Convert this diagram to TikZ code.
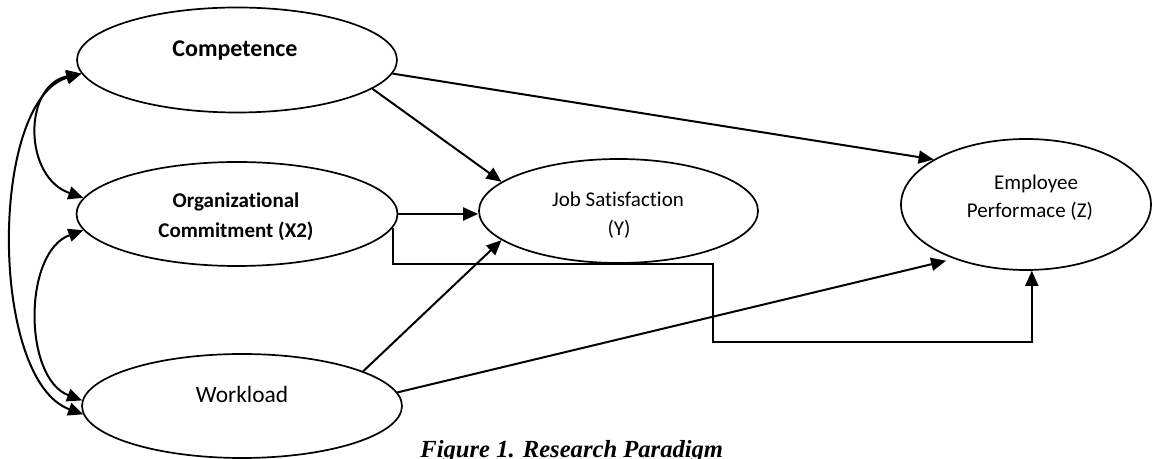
\documentclass[tikz,border=0pt]{standalone}
\usepackage{fontspec}
\setmainfont{Carlito}[Ligatures=NoCommon]
\newfontfamily\capfont{Liberation Serif}
\usetikzlibrary{arrows.meta,shapes.geometric}
\begin{document}
\begin{tikzpicture}[x=0.5pt,y=-0.5pt,
  latent/.style={draw, line width=0.85pt, ellipse, inner sep=0pt},
  lbl/.style={anchor=base, inner sep=0pt},
  arr/.style={line width=1pt, -{Triangle[length=7.5pt,width=6.5pt]}},
  biarr/.style={line width=1pt, {Triangle[length=7.5pt,width=6.5pt]}-{Triangle[length=7.5pt,width=6.5pt]}},
  elbow/.style={line width=0.75pt, -{Triangle[length=7.5pt,width=6.5pt]}},
  bigb/.style={font=\bfseries\fontsize{12}{14}\selectfont},
  midb/.style={font=\bfseries\fontsize{10.5}{13}\selectfont},
  midr/.style={font=\fontsize{10.5}{13}\selectfont},
  bigr/.style={font=\fontsize{11.7}{14}\selectfont}]
\path[use as bounding box, fill=white] (0,0) rectangle (1153,459);

% ellipses
\node[latent, minimum width=160pt, minimum height=52.5pt] (comp) at (237,60) {};
\node[latent, minimum width=160.5pt, minimum height=52pt] (org) at (237,214) {};
\node[latent, minimum width=160pt, minimum height=52pt] (work) at (242,406) {};
\node[latent, minimum width=139.5pt, minimum height=52pt] (js) at (618.5,211) {};
\node[latent, minimum width=125pt, minimum height=65.5pt] (ep) at (1026,204.5) {};

% labels
\node[lbl, bigb] (compt) at (235,57) {Competence};
\node[lbl, midb] (orgt1) at (236,208) {Organizational};
\node[lbl, midb] (orgt2) at (236,238) {Commitment (X2)};
\node[lbl, bigr] (workt) at (242,403) {Workload};
\node[lbl, midr] (jst1) at (618,207) {Job Satisfaction};
\node[lbl, midr] (jst2) at (619,236) {(Y)};
\node[lbl, midr] (ept1) at (1036,190) {Employee};
\node[lbl, midr] (ept2) at (1030,218) {Performace (Z)};
\node[anchor=base west, inner sep=0pt, font=\capfont\bfseries\itshape\fontsize{12.3}{14}\selectfont] (cap) at (420,458) {Figure 1. Research Paradigm};

% straight paths
\draw[arr] (comp.-5) -- (ep.154);
\draw[arr] (comp.-12) -- (js.166);
\draw[arr] (org.east) -- (org.east -| js.west);
\draw[arr] (work.16) -- (js.194);
\draw[arr, shorten >=4pt] (work.5) -- (ep.217);

% elbow path
\coordinate (k1) at (713,264);
\coordinate (k2) at (713,342);
\draw[elbow] (org.-5) |- (k1) -- (k2) -| (ep.-85);

% correlations
\draw[biarr] (comp.185) .. controls (23,85) and (23,177) .. (org.174);
\draw[biarr] (org.186) .. controls (23,252) and (23,378) .. (work.178);
\draw[biarr] (comp.185) .. controls (-11,100) and (-11,380) .. (work.183);
\end{tikzpicture}
\end{document}
